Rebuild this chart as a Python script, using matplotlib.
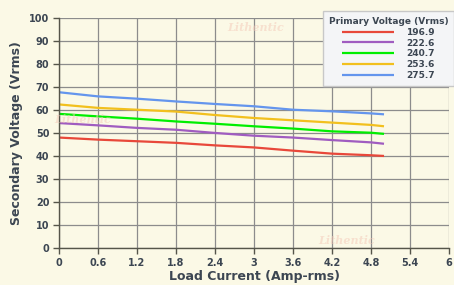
import matplotlib.pyplot as plt

# load current (Amp-rms)
current = [0, 0.6, 1.2, 1.8, 2.4, 3.0, 3.6, 4.2, 4.8, 5.0]

# secondary voltage per primary voltage
v_196 = [48.0, 47.1, 46.4, 45.7, 44.6, 43.7, 42.3, 41.0, 40.3, 40.0]
v_222 = [54.3, 53.3, 52.2, 51.4, 50.0, 48.8, 48.0, 46.9, 45.9, 45.3]
v_240 = [58.3, 57.2, 56.2, 55.0, 54.0, 52.9, 51.9, 50.7, 50.1, 49.6]
v_253 = [62.4, 60.9, 60.1, 59.3, 57.8, 56.5, 55.5, 54.5, 53.5, 52.9]
v_275 = [67.7, 65.9, 64.9, 63.7, 62.6, 61.6, 60.1, 59.4, 58.5, 58.1]

labels = ['196.9', '222.6', '240.7', '253.6', '275.7']
colors = ['#e8483a', '#a05cc0', '#00ee00', '#f2c01e', '#6495ed']
xticks = [0, 0.6, 1.2, 1.8, 2.4, 3, 3.6, 4.2, 4.8, 5.4, 6]

bg = '#fbf9e6'
txt = '#3c4652'

fig = plt.figure(figsize=(4.54, 2.85), dpi=100, facecolor=bg)
ax = fig.add_axes([0.130, 0.130, 0.859, 0.807])
ax.set_facecolor(bg)

# faint watermarks
for wx, wy in [(0.50, 0.89), (0.12, 0.57), (0.70, 0.145)]:
    fig.text(wx, wy, 'Lithentic', color='#f4c8b8', alpha=0.5, fontsize=8,
             fontstyle='italic', fontweight='bold', family='DejaVu Serif')

for ys, lab, c in zip([v_196, v_222, v_240, v_253, v_275], labels, colors):
    ax.plot(current, ys, color=c, lw=1.6, label=lab, solid_capstyle='butt')

ax.set_xlim(0, 6)
ax.set_ylim(0, 100)
ax.set_xticks(xticks)
ax.set_xticklabels([str(t) for t in xticks])
ax.set_yticks(range(0, 101, 10))
ax.grid(True, color='#8c8c8c', lw=0.9)
ax.set_axisbelow(True)
for s in ['top', 'right']:
    ax.spines[s].set_visible(False)
for s in ['left', 'bottom']:
    ax.spines[s].set_color('#55554a')
    ax.spines[s].set_linewidth(1.0)
ax.tick_params(length=4, width=1, color='#55554a', labelsize=7, labelcolor=txt, pad=3)
for t in ax.get_xticklabels() + ax.get_yticklabels():
    t.set_fontweight('bold')

ax.set_xlabel('Load Current (Amp-rms)', fontsize=9, fontweight='bold', color=txt, labelpad=2)
ax.set_ylabel('Secondary Voltage (Vrms)', fontsize=9, fontweight='bold', color=txt, labelpad=4)

leg = ax.legend(title='Primary Voltage (Vrms)', loc='upper right',
                bbox_to_anchor=(1.0, 0.961), bbox_transform=fig.transFigure,
                borderaxespad=0, fontsize=6.5, title_fontsize=6.5, handlelength=5.8,
                handletextpad=1.3, labelspacing=0.2, borderpad=0.65,
                fancybox=False, framealpha=1, labelcolor=txt)
leg.get_frame().set_facecolor('#f4f5f7')
leg.get_frame().set_edgecolor('#c8c8c8')
leg.get_title().set_fontweight('bold')
leg.get_title().set_color(txt)
for t in leg.get_texts():
    t.set_fontweight('bold')

fig.savefig('out.png', dpi=100, facecolor=bg)
